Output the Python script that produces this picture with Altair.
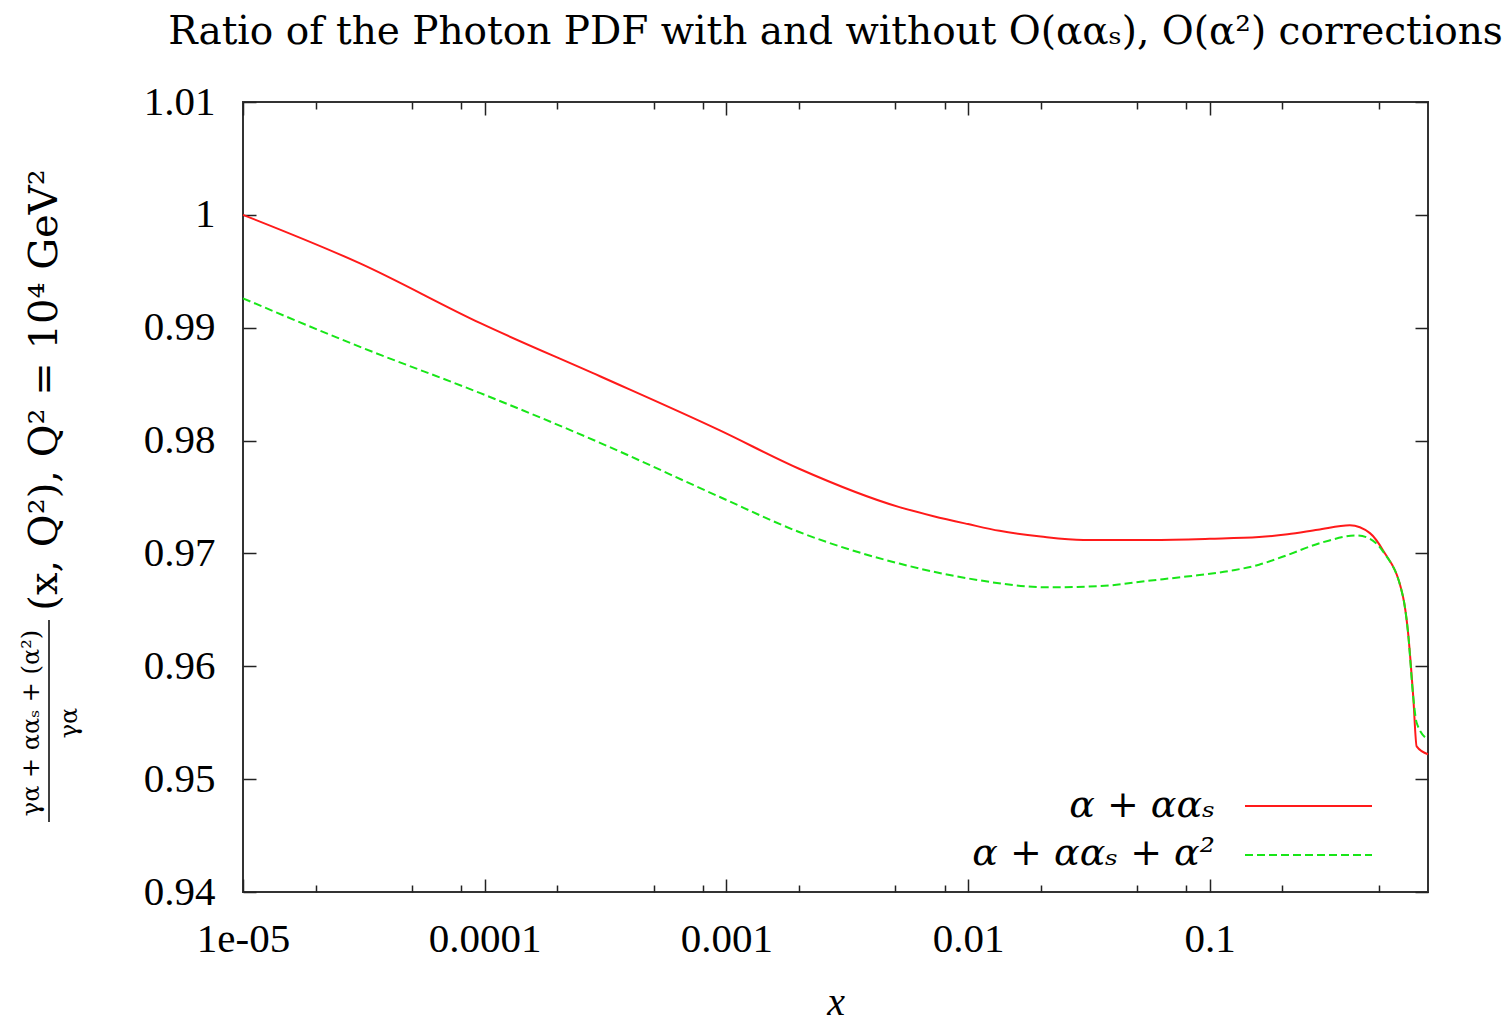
import altair as alt
import pandas as pd

# ---------------- data ----------------
series = ["α + ααₛ", "α + ααₛ + α²"]

x_red = [1e-5, 3.05e-5, 9.6e-5, 3.0e-4, 9.4e-4, 2.0e-3, 5.2e-3, 7.2e-3, 1.0e-2,
         1.35e-2, 2.0e-2, 3.0e-2, 5.7e-2, 0.10, 0.16, 0.21, 0.28, 0.38, 0.46,
         0.52, 0.63, 0.66, 0.695, 0.718, 0.8]
y_red = [1.0000, 0.9957, 0.9904, 0.9857, 0.9809, 0.9775, 0.9741, 0.9733, 0.9726,
         0.9720, 0.9715, 0.9712, 0.9712, 0.9713, 0.97145, 0.9717, 0.9721, 0.9725,
         0.9718, 0.9703, 0.9662, 0.9632, 0.9573, 0.9529, 0.9522]

x_green = [1e-5, 3.05e-5, 9.6e-5, 3.0e-4, 9.4e-4, 2.0e-3, 5.2e-3, 9.9e-3, 2.18e-2,
           3.5e-2, 5.7e-2, 8.0e-2, 0.125, 0.16, 0.20, 0.295, 0.405, 0.46, 0.52,
           0.63, 0.66, 0.695, 0.718, 0.8]
y_green = [0.9926, 0.9883, 0.9842, 0.9798, 0.9750, 0.9719, 0.9691, 0.9678, 0.9670,
           0.9671, 0.9676, 0.96795, 0.9685, 0.9690, 0.9697, 0.9710, 0.9716, 0.9713,
           0.9702, 0.9662, 0.9632, 0.9573, 0.9550, 0.9535]

x_major = [1e-5, 1e-4, 1e-3, 1e-2, 1e-1]
x_minor = [m * 10.0 ** e for e in range(-5, 0) for m in (2, 5, 8) if m * 10.0 ** e < 0.8]
y_ticks = [0.94, 0.95, 0.96, 0.97, 0.98, 0.99, 1.00, 1.01]

title_text = "Ratio of the Photon PDF with and without O(ααₛ), O(α²) corrections"
ytitle_main = "(x, Q²),  Q² = 10⁴ GeV²"
ytitle_num = "γα + ααₛ + (α²)"
ytitle_den = "γα"

# ---------------- style ----------------
FONT = "Liberation Serif"
FONT2 = "DejaVu Serif"
W, H = 1185, 790
MAJ, MIN = 13, 7
TICK = "#222222"
RED = "#ff1a1a"
GREEN = "#18e618"

red_df = pd.DataFrame({"x": x_red, "y": y_red})
green_df = pd.DataFrame({"x": x_green, "y": y_green})

xs = alt.Scale(type="log", domain=[1e-5, 0.8], nice=False)
ys = alt.Scale(domain=[0.94, 1.01], nice=False, zero=False)


def axis(orient, values, size, **kw):
    base = dict(orient=orient, values=values, tickSize=size, offset=-size,
                domain=False, grid=False, ticks=True, tickColor=TICK,
                tickWidth=1.5)
    base.update(kw)
    if "labels" not in base:
        base["labels"] = False
    if "title" not in base:
        base["title"] = None
    return alt.Axis(**base)


ax_bottom = axis("bottom", x_major, MAJ, labels=True, labelFont=FONT,
                 labelFontSize=41, labelColor="black", labelPadding=27,
                 labelFlush=False, labelOverlap=False,
                 labelExpr="datum.value < 5e-5 ? '1e-05' : format(datum.value, '~g')",
                 title="x", titleFont=FONT, titleFontSize=40,
                 titleFontStyle="italic", titleFontWeight="normal",
                 titleColor="black", titlePadding=23)
ax_top = axis("top", x_major, MAJ)
ax_bottom_minor = axis("bottom", x_minor, MIN)
ax_top_minor = axis("top", x_minor, MIN)
ay_left = axis("left", y_ticks, MAJ, labels=True, labelFont=FONT,
               labelFontSize=41, labelColor="black", labelPadding=28,
               labelFlush=False, labelOverlap=False, format="~g")
ay_right = axis("right", y_ticks, MAJ)

line_red = alt.Chart(red_df).mark_line(
    color=RED, strokeWidth=2, interpolate="monotone"
).encode(
    x=alt.X("x:Q", scale=xs, axis=ax_bottom),
    y=alt.Y("y:Q", scale=ys, axis=ay_left),
)

line_green = alt.Chart(green_df).mark_line(
    color=GREEN, strokeWidth=2, strokeDash=[8, 4], interpolate="monotone"
).encode(
    x=alt.X("x:Q", scale=xs, axis=ax_top),
    y=alt.Y("y:Q", scale=ys, axis=ay_right),
)

minor_b = alt.Chart(red_df).mark_line(strokeOpacity=0).encode(
    x=alt.X("x:Q", scale=xs, axis=ax_bottom_minor),
    y=alt.Y("y:Q", scale=ys, axis=None),
)
minor_t = alt.Chart(red_df).mark_line(strokeOpacity=0).encode(
    x=alt.X("x:Q", scale=xs, axis=ax_top_minor),
    y=alt.Y("y:Q", scale=ys, axis=None),
)


def label(text, x, y, size, angle=None, align="center", style="normal", font=FONT2):
    kw = dict(font=font, fontSize=size, align=align, baseline="middle",
              color="black", fontStyle=style)
    if angle is not None:
        kw["angle"] = angle
    return alt.Chart(pd.DataFrame({"t": [text]})).mark_text(**kw).encode(
        x=alt.value(x), y=alt.value(y), text="t:N")


yt_main = label(ytitle_main, -198, 288, 40, angle=270)
yt_num = label(ytitle_num, -211, 621, 24, angle=270)
yt_den = label(ytitle_den, -173, 621, 24, angle=270)
yt_bar = alt.Chart(pd.DataFrame({"t": [0]})).mark_rule(
    color="black", strokeWidth=1.5
).encode(x=alt.value(-194), y=alt.value(518), y2=alt.value(720))

leg1_t = label(series[0], 972, 704, 38, align="right", style="italic")
leg2_t = label(series[1], 972, 752, 38, align="right", style="italic")
leg1_l = alt.Chart(pd.DataFrame({"t": [series[0]]})).mark_rule(
    color=RED, strokeWidth=2
).encode(x=alt.value(1002), x2=alt.value(1129), y=alt.value(704))
leg2_l = alt.Chart(pd.DataFrame({"t": [series[1]]})).mark_rule(
    color=GREEN, strokeWidth=2, strokeDash=[8, 4]
).encode(x=alt.value(1002), x2=alt.value(1129), y=alt.value(753))

chart = alt.layer(
    line_red, line_green, minor_b, minor_t,
    yt_main, yt_num, yt_den, yt_bar,
    leg1_t, leg1_l, leg2_t, leg2_l,
).resolve_axis(
    x="independent", y="independent"
).properties(
    width=W, height=H,
    title=alt.TitleParams(text=title_text, font=FONT2, fontSize=39,
                          fontWeight="normal", color="black",
                          anchor="middle", offset=29),
    autosize=alt.AutoSizeParams(type="none"),
    padding={"left": 243, "top": 102, "right": 81, "bottom": 133},
    background="white",
).configure_view(
    stroke="#333333", strokeWidth=2
)

chart.save("out.html", embed_options={"renderer": "svg", "actions": False})
